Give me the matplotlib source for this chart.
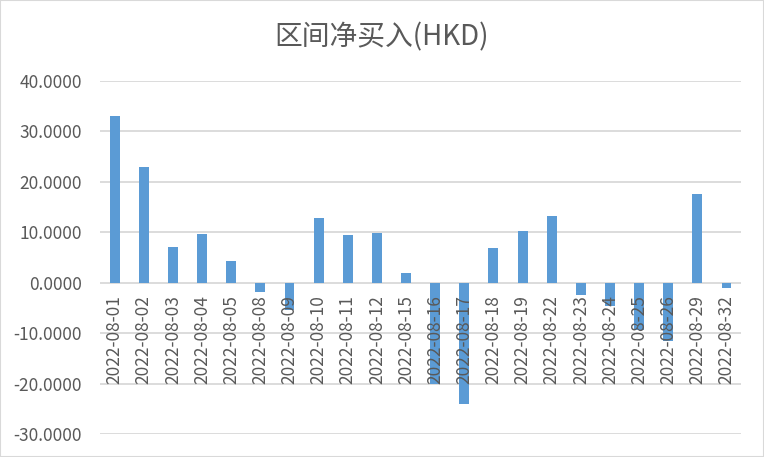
import matplotlib
matplotlib.use("Agg")
import matplotlib.pyplot as plt
from matplotlib.patches import Rectangle

plt.rcParams['font.family'] = ['Noto Sans CJK SC', 'DejaVu Sans']

dates = ["2022-08-01", "2022-08-02", "2022-08-03", "2022-08-04", "2022-08-05",
         "2022-08-08", "2022-08-09", "2022-08-10", "2022-08-11", "2022-08-12",
         "2022-08-15", "2022-08-16", "2022-08-17", "2022-08-18", "2022-08-19",
         "2022-08-22", "2022-08-23", "2022-08-24", "2022-08-25", "2022-08-26",
         "2022-08-29", "2022-08-32"]
net_buy = [33.1, 22.9, 7.0, 9.6, 4.2,
           -1.9, -5.5, 12.8, 9.4, 9.8,
           1.85, -20.0, -24.1, 6.8, 10.2,
           13.2, -2.5, -4.65, -9.3, -11.5,
           17.55, -1.1]
yticks = [-30, -20, -10, 0, 10, 20, 30, 40]

fig = plt.figure(figsize=(7.64, 4.57), dpi=100)
ax = fig.add_axes([0.131, 0.0503, 0.839, 0.7731])

x = range(len(dates))
ax.bar(x, net_buy, width=0.34, color="#5B9BD5", zorder=2)

ax.set_xlim(-0.5, len(dates) - 0.5)
ax.set_ylim(-30, 40)
ax.set_yticks(yticks)
ax.set_yticklabels(["%.4f" % v for v in yticks])
ax.yaxis.grid(True, color="#d9d9d9", linewidth=1.3)
ax.set_axisbelow(True)
# tick labels of x must sit on top of the bars
ax.xaxis.set_zorder(5)

for s in ax.spines.values():
    s.set_visible(False)
ax.spines['bottom'].set_position(('data', 0))

ax.set_xticks(list(x))
ax.set_xticklabels(dates, rotation=90, va="top", ha="center")
ax.tick_params(axis="x", length=0, pad=9, labelsize=12.5, labelcolor="#595959")
ax.tick_params(axis="y", length=0, pad=13, labelsize=12.5, labelcolor="#595959")

fig.text(0.5, 1 - 37 / 457, "区间净买入(HKD)", ha="center", va="center",
         fontsize=20, color="#595959")

fig.patches.append(Rectangle((0, 0), 1, 1, transform=fig.transFigure,
                             fill=False, edgecolor="#d9d9d9", linewidth=1.5))

fig.savefig("out.png", dpi=100)
